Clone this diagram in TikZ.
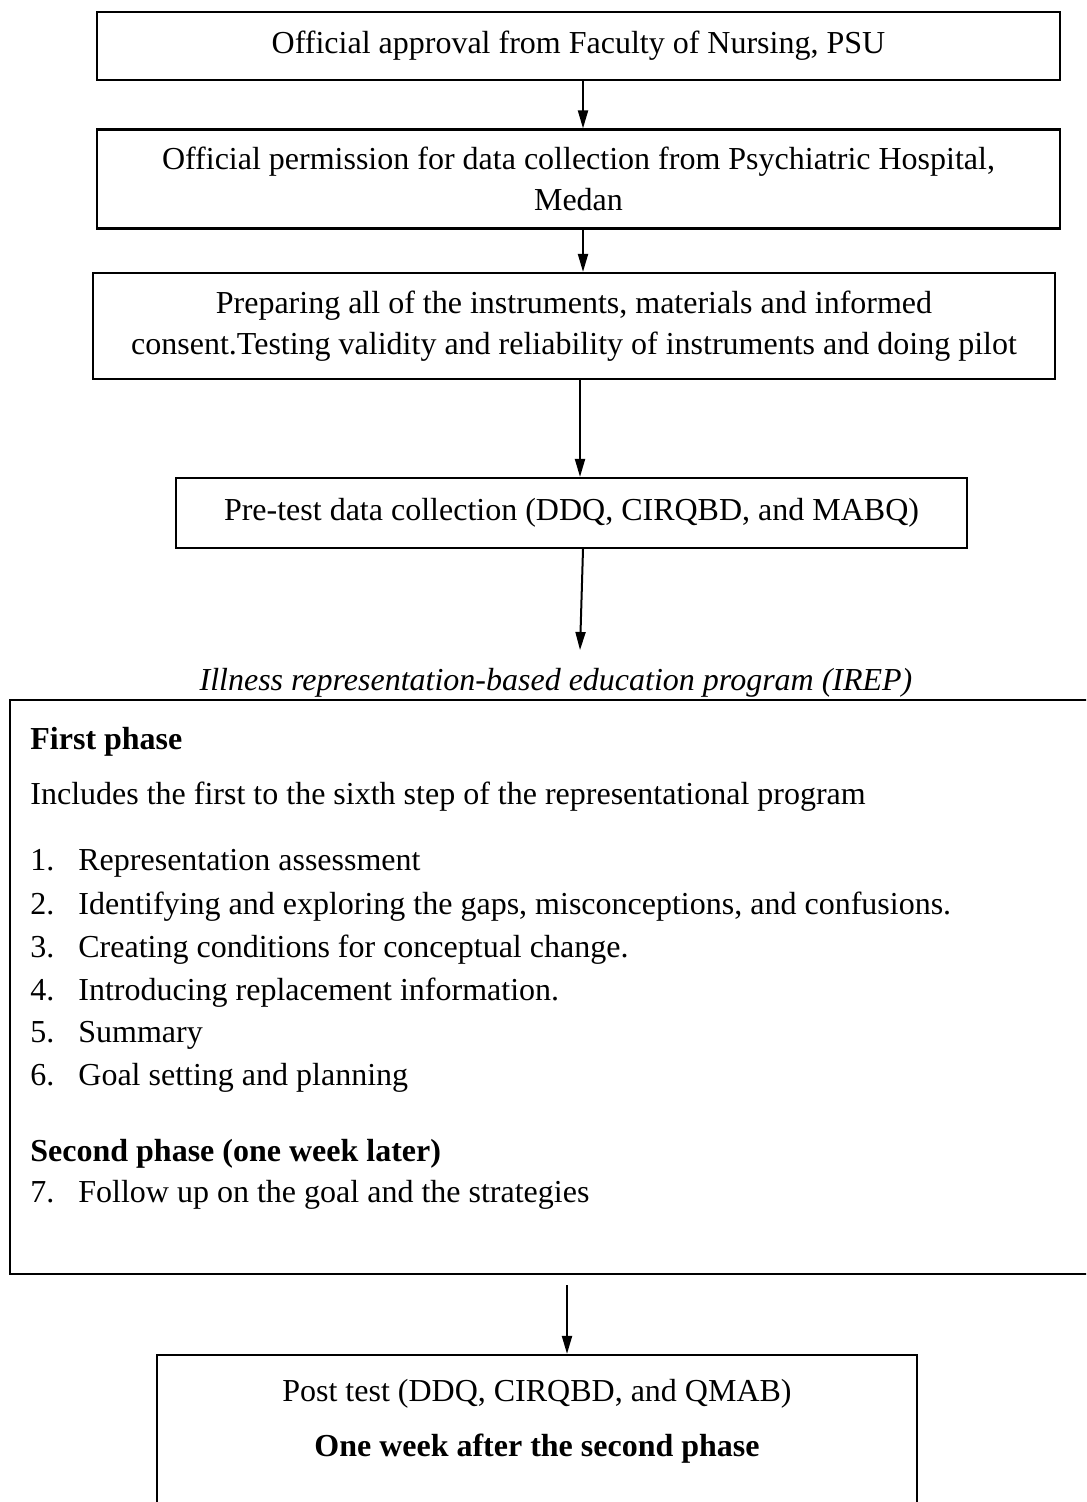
\documentclass[tikz,border=0pt]{standalone}
\usepackage{fontspec}
\setmainfont{Liberation Serif}
\usetikzlibrary{arrows.meta}
\newcommand{\fsz}{\fontsize{16}{20.5}\selectfont}
\begin{document}
\begin{tikzpicture}[x=0.5pt,y=-0.5pt,
  box/.style={draw,line width=1.1pt,inner sep=0pt,align=center,font=\fsz},
  arr/.style={line width=1pt,-{Triangle[length=9pt,width=5pt]}},
  txt/.style={anchor=west,inner sep=0pt,font=\fsz,text height=0.7em,text depth=0.25em},
  ctxt/.style={inner sep=0pt,font=\fsz,text height=0.7em,text depth=0.25em}]
\useasboundingbox (0,0) rectangle (1086,1502);
\clip (0,0) rectangle (1086,1502);
\node[box,minimum width=481.5pt,minimum height=34pt] (b1) at (578.5,46) {\raisebox{-1pt}{Official approval from Faculty of Nursing, PSU}};
\node[box,minimum width=481.5pt,minimum height=49.5pt] (b2) at (578.5,179) {Official permission for data collection from Psychiatric Hospital,\\ Medan};
\node[box,minimum width=481pt,minimum height=53pt] (b3) at (574,326) {Preparing all of the instruments, materials and informed\\ consent.Testing validity and reliability of instruments and doing pilot};
\node[box,minimum width=395.5pt,minimum height=35pt] (b4) at (571.5,513) {Pre-test data collection (DDQ, CIRQBD, and MABQ)};
\node[ctxt,font=\fsz\itshape] (irep) at (556,686) {Illness representation-based education program (IREP)};
\node[draw,line width=1.1pt,inner sep=0pt,minimum width=550pt,minimum height=287pt] (prog) at (560,987) {};
\node[txt,font=\fsz\bfseries] (ph1) at (30,745) {First phase};
\node[txt] (inc) at (30,800) {Includes the first to the sixth step of the representational program};
\node[txt] (n1) at (30,866) {1.};
\node[txt] (t1) at (78,866) {Representation assessment};
\node[txt] (n2) at (30,910) {2.};
\node[txt] (t2) at (78,910) {Identifying and exploring the gaps, misconceptions, and confusions.};
\node[txt] (n3) at (30,953) {3.};
\node[txt] (t3) at (78,953) {Creating conditions for conceptual change.};
\node[txt] (n4) at (30,996) {4.};
\node[txt] (t4) at (78,996) {Introducing replacement information.};
\node[txt] (n5) at (30,1038) {5.};
\node[txt] (t5) at (78,1038) {Summary};
\node[txt] (n6) at (30,1081) {6.};
\node[txt] (t6) at (78,1081) {Goal setting and planning};
\node[txt,font=\fsz\bfseries] (ph2) at (30,1157) {Second phase (one week later)};
\node[txt] (n7) at (30,1198) {7.};
\node[txt] (t7) at (78,1198) {Follow up on the goal and the strategies};
\node[draw,line width=1.1pt,inner sep=0pt,minimum width=380pt,minimum height=92.5pt] (b6) at (537,1447.5) {};
\node[ctxt] (post) at (537,1397) {Post test (DDQ, CIRQBD, and QMAB)};
\node[ctxt,font=\fsz\bfseries] (week) at (537,1452) {One week after the second phase};
\coordinate (a4) at (580,650);
\coordinate (a5) at (567,1285);
\draw[arr] ([xshift=2.25pt]b1.south) -- ([xshift=2.25pt]b2.north);
\draw[arr] ([xshift=2.25pt]b2.south) -- ([xshift=2.25pt]b2.south |- b3.north);
\draw[arr] ([xshift=3pt]b3.south) -- ([xshift=3pt]b3.south |- b4.north);
\draw[arr] ([xshift=5.75pt]b4.south) -- (a4);
\draw[arr] (a5) -- (a5 |- b6.north);
\end{tikzpicture}
\end{document}
